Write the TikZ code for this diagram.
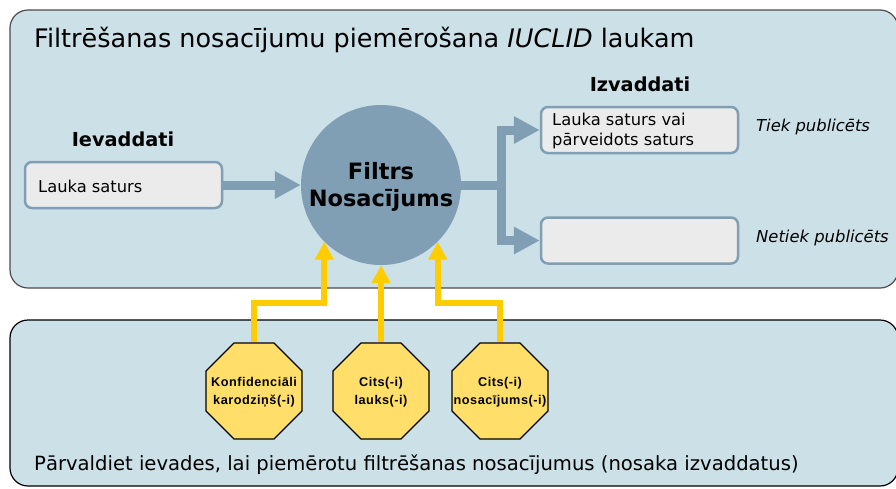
\documentclass[tikz,border=0pt]{standalone}
\usepackage{fontspec}
\setmainfont{DejaVu Sans}
\newfontfamily\octfont[LetterSpace=4]{Liberation Sans}
\usetikzlibrary{arrows.meta,shapes.geometric,calc}
\definecolor{panelfill}{HTML}{CCE0E8}
\definecolor{steel}{HTML}{809FB5}
\definecolor{boxfill}{HTML}{EBEBEB}
\definecolor{gold}{HTML}{FFCC00}
\definecolor{octfill}{HTML}{FFDF6A}
\tikzset{
  panel/.style={draw=#1, fill=panelfill, rounded corners=18pt, line width=1.2pt},
  databox/.style={draw=steel, fill=boxfill, rounded corners=7pt, line width=2.5pt, minimum width=197pt, minimum height=46pt, inner sep=0pt},
  boxtext/.style={font=\fontsize{16.3}{20}\selectfont, align=left, anchor=west, inner sep=0pt},
  headtext/.style={font=\bfseries\fontsize{19.3}{22}\selectfont, inner sep=0pt},
  sidetext/.style={font=\itshape\fontsize{16.4}{18}\selectfont, anchor=west, inner sep=0pt},
  bluearrow/.style={draw=steel, line width=9pt, -{Triangle[width=26pt,length=26pt]}},
  blueline/.style={draw=steel, line width=9pt},
  goldarrow/.style={draw=gold, line width=6pt, -{Triangle[width=18pt,length=18pt]}},
  octagon/.style={shape=regular polygon, regular polygon sides=8, draw=black, fill=octfill, line width=1.3pt, minimum size=104pt, inner sep=0pt},
  octtext/.style={font=\octfont\bfseries\fontsize{12.7}{18}\selectfont, align=center, inner sep=0pt},
}
\begin{document}
\begin{tikzpicture}[x=1pt,y=-1pt]
\useasboundingbox (0,0) rectangle (896,488);
\clip (0,0) rectangle (896,488);
% panels
\draw[panel=black!70] (10,10) rectangle (898,288);
\draw[panel=black] (10,320) rectangle (898,486);
% title
\node[anchor=west, inner sep=0pt, font=\fontsize{25.5}{28}\selectfont] (title) at (34,40) {Filtrēšanas nosacījumu piemērošana \textit{IUCLID} laukam};
% headings
\node[headtext] (inhead) at (123,139) {Ievaddati};
\node[headtext] (outhead) at (640,84) {Izvaddati};
% boxes
\node[databox] (inbox) at (123.5,185) {};
\node[boxtext] (intext) at (38,186) {Lauka saturs};
\node[databox] (out1) at (639.5,130) {};
\node[boxtext, align=left] (out1text) at (552,131) {Lauka saturs vai\\pārveidots saturs};
\node[databox] (out2) at (639.5,240.5) {};
\node[sidetext] (pub) at (756,127) {Tiek publicēts};
\node[sidetext] (nopub) at (756,238) {Netiek publicēts};
% circle
\node[circle, fill=steel, minimum size=160pt, inner sep=0pt] (circ) at (381,185) {};
\node[font=\bfseries\fontsize{22.5}{27}\selectfont, align=center, inner sep=0pt] (circtext) at (381,187) {Filtrs\\Nosacījums};
% blue connectors
\draw[bluearrow] (inbox.east) -- (circ.west);
\coordinate (junc) at (501,185);
\draw[blueline] (circ.east) -- (junc);
\draw[bluearrow] ($(junc)+(0,4.5)$) |- (out1.west);
\draw[bluearrow] ($(junc)-(0,4.5)$) |- (out2.west);
% octagons
\node[octagon] (oct1) at (254,391) {};
\node[octagon] (oct2) at (381,391) {};
\node[octagon] (oct3) at (500,391) {};
\node[octtext] (t1) at (254,392) {Konfidenciāli\\karodziņš(-i)};
\node[octtext] (t2) at (381,392) {Cits(-i)\\lauks(-i)};
\node[octtext] (t3) at (500,392) {Cits(-i)\\nosacījums(-i)};
% gold connectors
\coordinate (lvl1) at (290,303);
\coordinate (lvl3) at (470,303);
\draw[goldarrow] (oct1.north) |- (lvl1) -| (circ.-135);
\draw[goldarrow] (oct2.north) -- (circ.south);
\draw[goldarrow] (oct3.north) |- (lvl3) -| (circ.-45);
% bottom text
\node[anchor=west, inner sep=0pt, font=\fontsize{19.6}{22}\selectfont] (foot) at (34,465) {Pārvaldiet ievades, lai piemērotu filtrēšanas nosacījumus (nosaka izvaddatus)};
\end{tikzpicture}
\end{document}
